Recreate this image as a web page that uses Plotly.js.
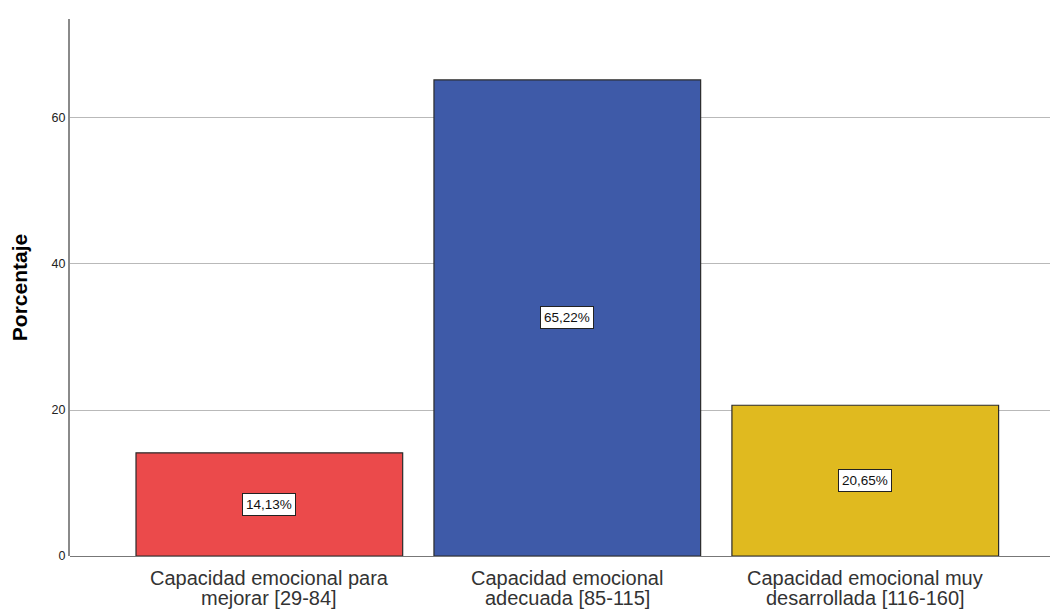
<!DOCTYPE html>
<html>
<head>
<meta charset="utf-8">
<script src="https://cdn.plot.ly/plotly-3.0.1.min.js"></script>
<style>html,body{margin:0;padding:0;background:#fff;}#chart{width:1050px;height:611px;}</style>
</head>
<body>
<div id="chart"></div>
<script>
const categories = ["Capacidad emocional para<br>mejorar [29-84]", "Capacidad emocional<br>adecuada [85-115]", "Capacidad emocional muy<br>desarrollada [116-160]"];
const values = [14.13, 65.22, 20.65];
const valueLabels = ["14,13%", "65,22%", "20,65%"];
const colors = ["#EB4A4B", "#3E5AA8", "#E0BA1F"];
const yTicks = [0, 20, 40, 60];

const FONT = "Liberation Sans, Arial, sans-serif";
const xIdx = categories.map((c, i) => i);

const trace = {
  type: "bar",
  x: xIdx,
  y: values,
  width: 0.895,
  marker: {color: colors, line: {color: "#2b2b2b", width: 1.2}},
  hoverinfo: "skip"
};

const annotations = values.map((v, i) => ({
  x: i, y: v / 2, xref: "x", yref: "y",
  text: valueLabels[i], showarrow: false,
  font: {family: FONT, size: 13.5, color: "#111"},
  bgcolor: "#ffffff", bordercolor: "#222", borderwidth: 1, borderpad: 3
}));

// category labels, one annotation per line for tight SPSS-like line spacing
const lineY = [-0.0410, -0.0775];
categories.forEach((c, i) => {
  c.split("<br>").forEach((line, j) => {
    annotations.push({
      x: i, y: lineY[j], xref: "x", yref: "paper",
      xanchor: "center", yanchor: "middle",
      text: line, showarrow: false,
      font: {family: FONT, size: 20, color: "#333"}
    });
  });
});

const layout = {
  width: 1050, height: 611,
  margin: {l: 70, r: 0, t: 19, b: 55},
  paper_bgcolor: "#fff", plot_bgcolor: "#fff",
  showlegend: false,
  xaxis: {
    range: [-0.669, 2.62],
    tickvals: xIdx, showticklabels: false,
    ticks: "", showgrid: false, zeroline: false,
    showline: false
  },
  yaxis: {
    range: [0, 73.56],
    tickvals: yTicks, ticktext: yTicks.map(String),
    ticks: "", ticklen: 0,
    showgrid: true, gridcolor: "#b9b9b9", gridwidth: 1,
    zeroline: true, zerolinecolor: "#777", zerolinewidth: 1,
    showline: true, linecolor: "#8a8a8a", linewidth: 2,
    tickfont: {family: FONT, size: 12.5, color: "#222"},
    title: {text: "Porcentaje", standoff: 18, font: {family: FONT, size: 21, color: "#000", weight: "bold"}}
  },
  annotations: annotations
};

Plotly.newPlot("chart", [trace], layout, {displayModeBar: false, staticPlot: true});
</script>
</body>
</html>
